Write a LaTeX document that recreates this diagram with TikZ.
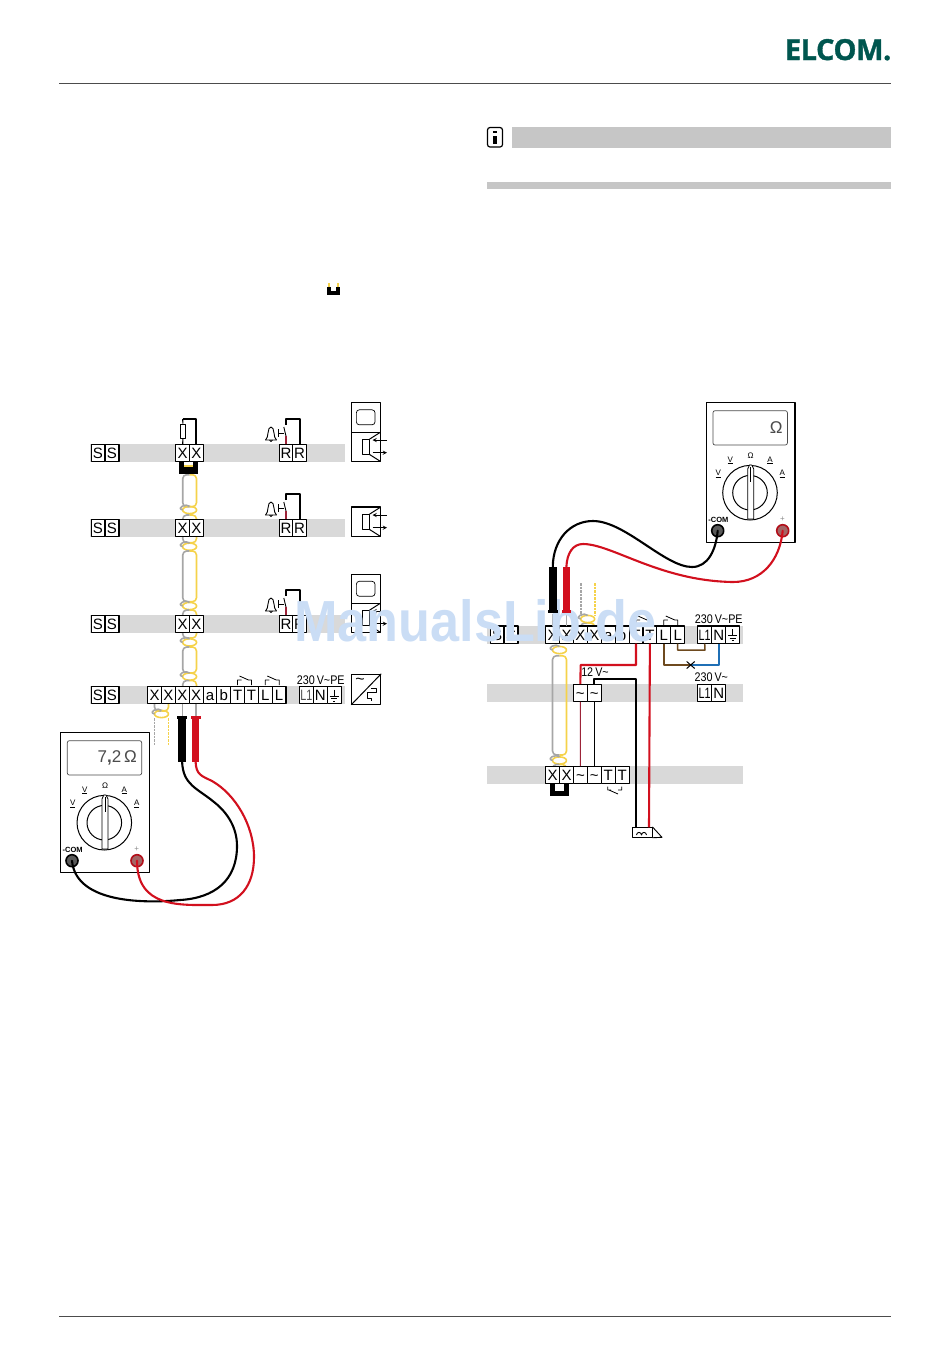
\documentclass[tikz,border=0pt]{standalone}
\usepackage{fontspec}
\setmainfont{Liberation Sans}
\setsansfont{Liberation Sans}
\newfontfamily\narrowfont[FakeStretch=0.72]{Liberation Sans}
\newfontfamily\labelfont[FakeStretch=0.86]{Liberation Sans}
\newfontfamily\markfont[FakeStretch=0.9]{Liberation Sans Bold}
\newfontfamily\logofont[FakeBold=1.2,LetterSpace=-1.5]{Open Sans Bold}
\definecolor{barcol}{HTML}{D9D9D9}
\definecolor{headcol}{HTML}{C6C6C6}
\definecolor{capyel}{HTML}{F5D24A}
\definecolor{capgry}{HTML}{A6A6A6}
\definecolor{wirered}{HTML}{D2101E}
\definecolor{thinred}{HTML}{9C2338}
\definecolor{wirebrn}{HTML}{6E4A1F}
\definecolor{wireblu}{HTML}{1F6FB5}
\definecolor{logocol}{HTML}{00564F}
\definecolor{markcol}{HTML}{CADDF5}
\tikzset{
	term/.style={draw,fill=white,line width=1.1pt,minimum width=13.9pt,minimum height=17.6pt,inner sep=0pt,outer sep=0pt,text height=10.7pt,text depth=0pt,font=\fontsize{15}{15}\selectfont},
	narrowterm/.style={term,font=\narrowfont\fontsize{15}{15}\selectfont},
	volt/.style={inner sep=0pt,font=\labelfont\fontsize{12.5}{13}\selectfont},
	bar/.style={fill=barcol},
	capy/.style={draw=capyel,line width=1.6pt},
	capg/.style={draw=capgry,line width=1.6pt},
	dashcore/.style={line width=1.8pt,dash pattern=on 2.5pt off 1pt},
	wire/.style={line width=2.1pt},
	thinw/.style={line width=1.1pt},
	probe/.style={minimum width=7.5pt,minimum height=45pt,inner sep=0pt,outer sep=0pt},
	dial/.style={inner sep=0pt,font=\fontsize{8}{8}\selectfont},
	jack/.style={circle,draw,line width=1.6pt,minimum size=12pt,inner sep=0pt,outer sep=0pt}
}
% grey and yellow core of the cable
\newcommand{\capsule}[4]{
	\draw[capg,rounded corners=4pt] (#1+7,#3)--(#1,#3)--(#1,#4)--(#1+7,#4);
	\draw[capy,rounded corners=4pt] (#1+7,#3)--(#2,#3)--(#2,#4)--(#1+7,#4);
}
\newcommand{\twistpair}[2]{
	\draw[capy] (#1,#2) ellipse [x radius=7,y radius=3.6];
	\draw[capg] (#1,#2) +(-7,0) .. controls +(-7,-2) and +(-3,-3.6) .. +(0,-3.6);
}
% bell with contact, x and y of the upper left corner of the first R
\newcommand{\bellcontact}[1]{
	\begin{scope}[shift={(0,#1)}]
		\draw[line width=0.9pt] (265.5,440)..controls (269,438) and (267,427)..(271,427)..controls (275,427) and (273,438)..(276.5,440)--cycle;
		\draw[line width=0.9pt] (269.5,440)..controls (270,442) and (272,442)..(272.5,440);
		\draw[line width=0.9pt] (278.3,429.3)--(278.3,437.3) (278.3,433)--(284,433);
		\draw[line width=0.9pt] (286,436)--(283.8,427);
	\end{scope}
}
\newcommand{\speaker}[1]{
	\begin{scope}[shift={(0,#1)}]
		\draw[line width=1pt] (362.7,439.3) rectangle (369.3,454.3);
		\draw[line width=1pt] (369.3,439.3)--(380.3,432.3) (369.3,454.3)--(380.3,461.3);
		\draw[-stealth,line width=0.9pt] (387,440)--(372.5,440);
		\draw[-stealth,line width=0.9pt] (372.5,452.7)--(387,452.7);
	\end{scope}
}
% multimeter: prefix, shift, reading
\newcommand{\meter}[3]{
	\begin{scope}[shift={(#2)}]
		\draw[line width=1.1pt,fill=white] (60.7,732.7) rectangle (149.3,872.3);
		\draw[line width=0.7pt,rounded corners=2pt,draw=black!70] (67.3,740.7) rectangle (141.7,775);
		\node[inner sep=0pt,anchor=east,text=black!70,font=\fontsize{17}{17}\selectfont] (#1read) at (137,758) {#3};
		\draw[line width=1pt] (104.3,822.7) circle [radius=27.3];
		\draw[line width=1pt] (104.3,822.7) circle [radius=17.3];
		\draw[line width=0.8pt,fill=white] (103.8,795)--(102,799)--(102,849)--(108,849)--(108,799)--(106,795)--cycle;
		\draw[line width=0.6pt] (104.8,797)--(104.8,812);
		\node[dial] (#1ohm) at (105,786) {\char"03A9};
		\node[dial] (#1va) at (84.7,790.5) {\underline{V}};
		\node[dial] (#1vb) at (72.7,804) {\underline{V}};
		\node[dial] (#1aa) at (124.3,790.5) {\underline{A}};
		\node[dial] (#1ab) at (136.7,804) {\underline{A}};
		\node[dial,font=\bfseries\fontsize{7.5}{8}\selectfont] (#1com) at (72.7,850) {-COM};
		\node[dial,text=black!45] (#1plus) at (136.7,849) {+};
		\node[jack,draw=black,fill=black!65] (#1jb) at (72,860.7) {};
		\node[jack,draw=wirered!85!black,fill=black!60!red!60] (#1jr) at (137,860.7) {};
	\end{scope}
}
\begin{document}
\begin{tikzpicture}[x=1pt,y=-1pt,>=stealth,line join=round]
	\useasboundingbox (0,0) rectangle (950,1353);
	% page head and foot
	\draw[line width=0.9pt,draw=black!70] (59,83.5)--(891,83.5);
	\draw[line width=0.9pt,draw=black!70] (59,1316)--(891,1316);
	\node[anchor=base east,inner sep=0pt,text=logocol,font=\logofont\fontsize{29}{30}\selectfont] (logo) at (891.5,60) {ELCOM.};
	\draw[line width=1.2pt,rounded corners=2.5pt] (487.5,127.5) rectangle (502.5,147);
	\fill (493.4,130.5) rectangle (496.6,133);
	\fill (493.4,135.5) rectangle (496.6,144);
	\fill[headcol] (512,127) rectangle (891,147.5);
	\fill[headcol] (487,182) rectangle (891,189);
	% small bridge in the text
	\draw[capy] (329,283)--(329,288) (338,283)--(338,288);
	\fill (327.3,287) rectangle (340,295);
	\fill[white] (331,287) rectangle (336.3,291);
	% bars, left
	\foreach \yb in {444,519,615,686} \fill[bar] (90,\yb) rectangle (345,\yb+18);
	% bars, right
	\foreach \yb/\xa in {626/487,684.3/487,766.3/487} \fill[bar] (\xa,\yb) rectangle (743,\yb+17.6);
	% cable, left
	\capsule{182.7}{196.5}{474.7}{506.7}
	\twistpair{189.6}{510}
	\capsule{182.7}{196.5}{515}{542.7}
	\twistpair{189.6}{546.7}
	\capsule{182.7}{196.5}{551}{601.7}
	\twistpair{189.6}{606}
	\capsule{182.7}{196.5}{610}{638}
	\twistpair{189.6}{642.4}
	\capsule{182.7}{196.5}{647}{673}
	\twistpair{189.6}{676.6}
	\capsule{182.7}{196.5}{680.5}{695}
	\capsule{154.5}{168.5}{700}{711}
	\twistpair{161.5}{714}
	\draw[capg,dashcore] (154.5,718)--(154.5,745);
	\draw[capy,dashcore] (168.5,718)--(168.5,745);
	% cable, right
	\capsule{552.5}{566.5}{636}{641}
	\twistpair{559.5}{650}
	\capsule{552.5}{566.5}{655.7}{755}
	\twistpair{559.5}{760.5}
	\capsule{552.5}{566.5}{764.5}{772}
	\capsule{580.7}{594.7}{623}{632}
	% rows of terminals, left
	\foreach \r/\yc in {a/453,b/528,c/624,d/695}{
		\foreach \n/\x/\t in {s/98/S,t/112/S}
			\node[term] (\r\n) at (\x,\yc) {\t};
	}
	\foreach \r/\yc in {a/453,b/528,c/624}{
		\foreach \n/\x/\t in {x/182.7/X,y/196.4/X,p/286/R,q/299.6/R}
			\node[term] (\r\n) at (\x,\yc) {\t};
	}
	\foreach \n/\x/\t in {1/154.6/X,2/168.4/X,3/182.3/X,4/196.1/X,5/210/a,6/223.7/b,7/237.6/T,8/251.4/T,9/265.2/L,10/279/L}
		\node[term] (dc\n) at (\x,695) {\t};
	\node[narrowterm,text=black!70] (dl) at (306.3,695) {L1};
	\node[term] (dn) at (320.2,695) {N};
	\node[term] (dpe) at (334.2,695) {};
	\draw[line width=0.8pt] (dpe.center) +(0,-5.5) -- +(0,1) +(-4.5,1) -- +(4.5,1) +(-3,3.5) -- +(3,3.5) +(-1.2,6) -- +(1.2,6);
	% resistor and bridges over the first row
	\node[draw,fill=white,line width=0.7pt,minimum width=5.6pt,minimum height=14.4pt,inner sep=0pt] (res) at (182.9,431.2) {};
	\coordinate (rtop) at (182.7,419);
	\draw[thinw] (ax.north)--(res.south) (res.north)--(rtop);
	\draw[wire] (rtop)-|(ay.north);
	\fill (179.3,462) rectangle (197.7,474);
	\fill[white] (184,462) rectangle (193.3,467);
	\draw[capy] (184,466.2)--(193.3,466.2);
	% bells and door contacts
	\foreach \r/\dy in {a/0,b/75,c/171}{
		\bellcontact{\dy}
		\draw[line width=1.1pt,thinred] (\r p.north)--++(0,-8);
		\draw[wire] (\r p.north)++(0,-19)--++(0,-6)-|(\r q.north);
	}
	% stations
	\node[draw,line width=1.1pt,minimum width=29.3pt,minimum height=30pt,inner sep=0pt,fill=white] (sa) at (365.7,417.3) {};
	\node[draw,line width=1.1pt,minimum width=29.3pt,minimum height=29pt,inner sep=0pt,fill=white] (sb) at (365.7,446.8) {};
	\node[draw,line width=0.7pt,rounded corners=3pt,minimum width=18.7pt,minimum height=15pt,inner sep=0pt] (sc) at (sa) {};
	\speaker{0}
	\node[draw,line width=1.1pt,minimum width=29.3pt,minimum height=29.7pt,inner sep=0pt,fill=white] (sd) at (365.7,521.8) {};
	\speaker{75}
	\node[draw,line width=1.1pt,minimum width=29.3pt,minimum height=29pt,inner sep=0pt,fill=white] (se) at (365.7,588.8) {};
	\node[draw,line width=1.1pt,minimum width=29.3pt,minimum height=29.3pt,inner sep=0pt,fill=white] (sf) at (365.7,618) {};
	\node[draw,line width=0.7pt,rounded corners=3pt,minimum width=18.7pt,minimum height=15pt,inner sep=0pt] (sg) at (se) {};
	\speaker{171}
	% power supply
	\node[draw,line width=1.1pt,minimum width=29pt,minimum height=30pt,inner sep=0pt] (psu) at (366.2,689.3) {};
	\draw[line width=1pt] (psu.south west)--(psu.north east);
	\draw[line width=0.9pt] (371,688)--(376,688)--(376,692)--(367.7,692)--(367.7,698)--(371.7,698)--(371.7,700.7);
	\node[inner sep=0pt,font=\fontsize{16}{16}\selectfont] (psuw) at (360,681) {\char"007E};
	\node[volt] (dvolt) at (320.7,680.5) {230\,V\char"007E PE};
	% relays over row d
	\foreach \m in {237.5,265.3}{
		\draw[line width=0.8pt] (\m,685)--(\m,680)--(\m+4,680) (\m+2,676)--(\m+11,680)--(\m+14,680)--(\m+14,685);
	}
	% probes and leads, left
	\draw[line width=1.6pt,capgry] (dc3.south)--++(0,12) (dc4.south)--++(0,12);
	\node[probe,fill=black,anchor=north] (lpb) at (182.1,716.7) {};
	\node[probe,fill=wirered,anchor=north] (lpr) at (195.6,716.7) {};
	\fill[black] (177,716) rectangle (187,719);
	\fill[wirered] (190.7,716) rectangle (200.5,719);
	\meter{lm}{0,0}{7{\bfseries,}2\,\char"03A9}
	\draw[wire,line cap=round] (lpb.south)..controls (183,785) and (197,788)..(214,802)..controls (228,813) and (237,828)..(237,846)..controls (237,880) and (215,898)..(180,900)..controls (150,903) and (76,905)..(lmjb.center);
	\draw[wire,wirered,line cap=round] (lpr.south)..controls (196,775) and (202,776)..(212,781)..controls (235,794) and (254,825)..(254,857)..controls (254,885) and (240,905)..(212,905)..controls (180,905) and (137,908)..(lmjr.center);
	% rows of terminals, right
	\foreach \n/\x/\t in {1/497/S,2/511/S}
		\node[term] (es\n) at (\x,634.8) {\t};
	\foreach \n/\x/\t in {1/552.6/X,2/566.5/X,3/580.4/X,4/594.3/X,5/608.2/a,6/622.1/b,7/636/T,8/649.9/T,9/663.8/L,10/677.7/L}
		\node[term] (ec\n) at (\x,634.8) {\t};
	\node[narrowterm] (el) at (704.7,634.8) {L1};
	\node[term] (en) at (718.7,634.8) {N};
	\node[term] (epe) at (732.7,634.8) {};
	\draw[line width=0.8pt] (epe.center) +(0,-5.5) -- +(0,1) +(-4.5,1) -- +(4.5,1) +(-3,3.5) -- +(3,3.5) +(-1.2,6) -- +(1.2,6);
	\node[volt] (evolt) at (718.7,619.5) {230\,V\char"007E PE};
	\foreach \m in {636,663.8}{
		\draw[line width=0.8pt] (\m,625)--(\m,620)--(\m+4,620) (\m+2,616)--(\m+11,620)--(\m+14,620)--(\m+14,625);
	}
	\foreach \n/\x in {1/580.3,2/594.3}
		\node[term] (fs\n) at (\x,693) {\char"007E};
	\node[narrowterm] (fl) at (704.7,693) {L1};
	\node[term] (fn) at (718.7,693) {N};
	\node[volt] (fvolt) at (711.3,676.7) {230\,V\char"007E};
	\node[volt] (gvolt) at (595,672) {12\,V\char"007E};
	\foreach \n/\x/\t in {1/552.6/X,2/566.5/X,3/580.4/\char"007E,4/594.3/\char"007E,5/608.2/T,6/622.1/T}
		\node[term] (gc\n) at (\x,775) {\t};
	\draw[line width=0.8pt] (607.7,786.7)--(607.7,790)--(611,790) (609,790)--(618,794) (618,790)--(621.7,790)--(621.7,786.7);
	\fill (550,783.7) rectangle (569,795.7);
	\fill[white] (555,783.7) rectangle (564.3,790.7);
	% wires, right
	\node[draw,line width=0.9pt,fill=white,minimum width=19.7pt,minimum height=10pt,inner sep=0pt] (bell) at (642.1,832.3) {};
	\draw[line width=0.9pt] (bell.north east)--(662,837.3)--(bell.south east);
	\draw[line width=0.9pt] (636.5,835)..controls (637,831.5) and (641,831.5)..(641.5,835)..controls (642,831.5) and (646,831.5)..(646.5,835);
	\draw[wire,wirered] (ec7.south)|-(580.7,665)--(fs1.north);
	\draw[wire] (fs2.north)|-(636,679)--(636,827.3);
	\draw[wire,wirered] (ec8.south)--(649,827.3);
	\draw[thinw,thinred] (fs1.south)--(gc3.north);
	\draw[thinw] (fs2.south)--(gc4.north);
	\coordinate (cross) at (690.7,665);
	\draw[wire,wirebrn] (ec9.south)|-(cross);
	\draw[wire,wireblu] (en.south)|-(cross);
	\draw[wire,wirebrn,line width=1.5pt] (ec10.south)|-(705,650)--(el.south);
	\draw[line width=1pt] (cross)+(-4,-3.5)--+(4,3.5) (cross)+(-4,3.5)--+(4,-3.5);
	\draw[line width=1.6pt,capgry] (ec1.north)--++(0,-12) (ec2.north)--++(0,-12);
	% watermark
	\node[anchor=base west,inner sep=0pt,text=markcol,font=\markfont\fontsize{58}{58}\selectfont] (mark) at (294,641.7) {ManualsLib.de};
	% probes and leads, right
	\twistpair{587.7}{619}
	\draw[capg,dashcore] (580.7,583)--(580.7,615);
	\draw[capy,dashcore] (594.7,583)--(594.7,615);
	\meter{rm}{645.7,-330}{\char"03A9}
	\node[probe,fill=black,anchor=north] (rpb) at (552.8,566.7) {};
	\node[probe,fill=wirered,anchor=north] (rpr) at (566.4,566.7) {};
	\fill[black] (547.7,609.5) rectangle (557.7,613);
	\fill[wirered] (561.5,609.5) rectangle (571.2,613);
	\draw[wire,line cap=round] (rpb.north)..controls (553,540) and (570,521)..(593,521)..controls (625,521) and (665,567)..(692,567)..controls (708,567) and (716,550)..(rmjb.center);
	\draw[wire,wirered,line cap=round] (rpr.north)..controls (567,553) and (573,544)..(583,544)..controls (612,544) and (660,581)..(733,582)..controls (762,582) and (780,560)..(rmjr.center);
\end{tikzpicture}
\end{document}
